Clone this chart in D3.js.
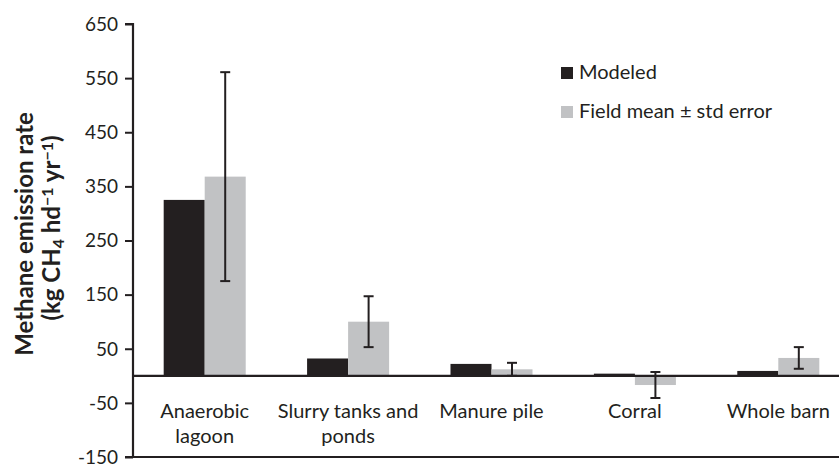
<!DOCTYPE html>
<html><head><meta charset="utf-8">
<script src="https://cdn.jsdelivr.net/npm/d3@7"></script>
<style>
html,body{margin:0;padding:0;background:#fff;}
svg{display:block;font-family:Lato,sans-serif;}
</style></head>
<body><svg id="c" width="839" height="465"></svg>
<script>
const categories = [["Anaerobic","lagoon"],["Slurry tanks and","ponds"],["Manure pile"],["Corral"],["Whole barn"]];
const modeled = [325, 32, 22, 4, 9];
const fieldMean = [368, 100, 12, -17, 33];
const fieldErr = [193, 47, 12, 24, 20];
const yTicks = [-150, -50, 50, 150, 250, 350, 450, 550, 650];
const seriesNames = ["Modeled", "Field mean \u00b1 std error"];
const colors = ["#231f20", "#c1c2c4"];
const ink = "#231f20";

(function(){
const svg = d3.select("#c");
const pL = 133, pT = 24, pB = 457, pR = 850;
const keys = categories.map((c,i)=>i);
const x = d3.scaleBand().domain(keys).range([pL, pR]).paddingInner(0.428).paddingOuter(0.214);
const xs = d3.scaleBand().domain([0,1]).range([0, x.bandwidth()]);
const y = d3.scaleLinear().domain([-150, 650]).range([pB, pT]);

const g = svg.append("g");
keys.forEach(i=>{
  const vals = [modeled[i], fieldMean[i]];
  vals.forEach((v,s)=>{
    g.append("rect")
      .attr("x", x(i)+xs(s))
      .attr("width", xs.bandwidth())
      .attr("y", y(Math.max(0,v)))
      .attr("height", Math.abs(y(v)-y(0)))
      .attr("fill", colors[s]);
  });
  const cx = x(i)+xs(1)+xs.bandwidth()/2;
  const hi = y(fieldMean[i]+fieldErr[i]), lo = y(fieldMean[i]-fieldErr[i]);
  g.append("line").attr("x1",cx).attr("x2",cx).attr("y1",hi).attr("y2",lo).attr("stroke",ink).attr("stroke-width",2);
  [hi,lo].forEach(yy=>g.append("line").attr("x1",cx-5).attr("x2",cx+5).attr("y1",yy).attr("y2",yy).attr("stroke",ink).attr("stroke-width",2));
});

svg.append("line").attr("x1",pL).attr("x2",pR).attr("y1",y(0)).attr("y2",y(0)).attr("stroke",ink).attr("stroke-width",2.2);

const ya = svg.append("g").attr("transform",`translate(${pL},0)`)
  .call(d3.axisLeft(y).tickValues(yTicks).tickSize(8).tickPadding(7).tickFormat(d=>String(d)));
ya.select(".domain").attr("stroke",ink).attr("stroke-width",2.2).attr("d",`M-8,${y(650)}H0V${y(-150)}H-8`);
ya.selectAll(".tick line").attr("stroke",ink).attr("stroke-width",2);
ya.selectAll(".tick text").attr("fill",ink).style("font-size","19px").style("font-family","Lato").attr("dy","0.33em");

svg.append("line").attr("x1",pL).attr("x2",pR).attr("y1",pB).attr("y2",pB).attr("stroke",ink).attr("stroke-width",2.2);

keys.forEach(i=>{
  const cx = x(i)+x.bandwidth()/2;
  const t = svg.append("text").attr("text-anchor","middle").attr("fill",ink).style("font-size","20px");
  categories[i].forEach((line,j)=>{
    t.append("tspan").attr("x",cx).attr("y",418+j*24.5).text(line);
  });
});

const yt = svg.append("g").attr("fill",ink).style("font-weight","bold").style("font-size","24px");
yt.append("text").attr("transform","translate(33,234) rotate(-90)").attr("text-anchor","middle").text("Methane emission rate");
const t2 = yt.append("text").attr("transform","translate(60,228) rotate(-90)").attr("text-anchor","middle");
t2.append("tspan").text("(kg CH");
t2.append("tspan").attr("baseline-shift","-4px").style("font-size","16px").text("4");
t2.append("tspan").text(" hd");
t2.append("tspan").attr("baseline-shift","7px").style("font-size","16px").text("\u22121");
t2.append("tspan").text(" yr");
t2.append("tspan").attr("baseline-shift","7px").style("font-size","16px").text("\u22121");
t2.append("tspan").text(")");

const lg = svg.append("g");
seriesNames.forEach((n,i)=>{
  const yy = 67 + i*39;
  lg.append("rect").attr("x",561).attr("y",yy).attr("width",12).attr("height",12).attr("fill",colors[i]);
  lg.append("text").attr("x",579).attr("y",yy+11.5).attr("fill",ink).style("font-size","20px").text(n);
});
})();
</script></body></html>
